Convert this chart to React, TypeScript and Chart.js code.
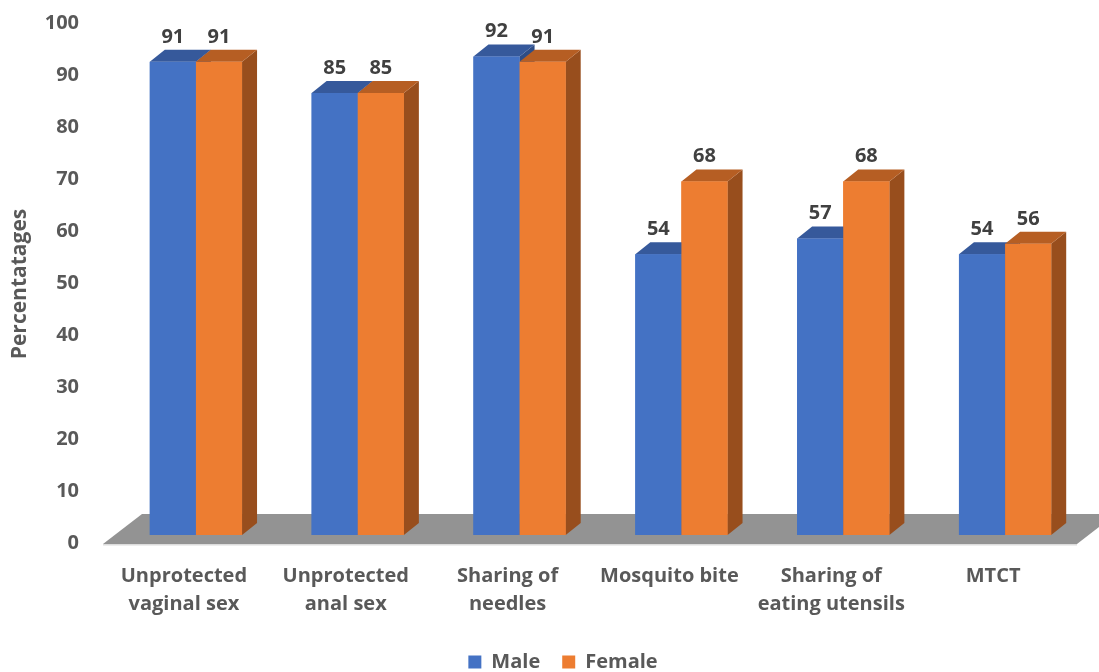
import React, { useEffect, useRef } from 'react';
import { Chart, registerables } from 'chart.js';

Chart.register(...registerables);

const categories: string[][] = [
  ['Unprotected', 'vaginal sex'],
  ['Unprotected', 'anal sex'],
  ['Sharing of', 'needles'],
  ['Mosquito bite'],
  ['Sharing of', 'eating utensils'],
  ['MTCT'],
];
const maleValues = [91, 85, 92, 54, 57, 54];
const femaleValues = [91, 85, 91, 68, 68, 56];
const seriesNames = ['Male', 'Female'];
const yAxisTitle = 'Percentatages';
const yMin = 0;
const yMax = 100;
const yStep = 10;

const FONT = '"Open Sans", "DejaVu Sans", sans-serif';
const TEXT = '#595959';
const LABEL = '#404040';
const MALE = { front: '#4472C4', top: '#36599B', side: '#2E4D86' };
const FEMALE = { front: '#ED7D31', top: '#B65E23', side: '#984E1D' };
const DX = 15;
const DY = 12;

function poly(ctx: CanvasRenderingContext2D, pts: number[][], color: string) {
  ctx.beginPath();
  ctx.moveTo(pts[0][0], pts[0][1]);
  for (let i = 1; i < pts.length; i++) ctx.lineTo(pts[i][0], pts[i][1]);
  ctx.closePath();
  ctx.fillStyle = color;
  ctx.fill();
}

const bars3d = {
  id: 'bars3d',
  afterLayout(chart: any) {
    const lg = chart.legend;
    if (lg) {
      lg.top += 10;
      lg.bottom += 10;
      lg.left += 20;
      lg.right += 20;
    }
  },
  beforeDatasetsDraw(chart: any) {
    const ctx = chart.ctx as CanvasRenderingContext2D;
    const { left, right } = chart.chartArea;
    const base = chart.scales.y.getPixelForValue(0);
    ctx.save();
    poly(
      ctx,
      [
        [left - 12, base + 9],
        [right - 9, base + 9],
        [right + 30, base - 21],
        [left + 27, base - 21],
      ],
      '#939393'
    );
    ctx.fillStyle = '#dcdcdc';
    ctx.fillRect(left - 12, base + 9, right - left + 3, 1.5);
    ctx.restore();
  },
  afterDatasetsDraw(chart: any) {
    const ctx = chart.ctx as CanvasRenderingContext2D;
    const base = chart.scales.y.getPixelForValue(0);
    const metas = [chart.getDatasetMeta(0), chart.getDatasetMeta(1)];
    const palettes = [MALE, FEMALE];
    ctx.save();
    for (let i = 0; i < categories.length; i++) {
      for (let d = 0; d < 2; d++) {
        const bar = metas[d].data[i];
        if (!bar) continue;
        const { x, y, width } = bar.getProps(['x', 'y', 'width'], true);
        const x0 = x - width / 2;
        const x1 = x + width / 2;
        const pal = palettes[d];
        poly(ctx, [[x1, y], [x1 + DX, y - DY], [x1 + DX, base - DY], [x1, base]], pal.side);
        poly(ctx, [[x0, y], [x1, y], [x1 + DX, y - DY], [x0 + DX, y - DY]], pal.top);
        ctx.fillStyle = pal.front;
        ctx.fillRect(x0, y, width, base - y);
      }
    }
    ctx.font = `bold 20px ${FONT}`;
    ctx.fillStyle = LABEL;
    ctx.textAlign = 'center';
    ctx.textBaseline = 'middle';
    for (let d = 0; d < 2; d++) {
      const vals = d === 0 ? maleValues : femaleValues;
      metas[d].data.forEach((bar: any, i: number) => {
        const { x, y } = bar.getProps(['x', 'y'], true);
        ctx.fillText(String(vals[i]), x, y - 25);
      });
    }
    ctx.restore();
  },
  afterDraw(chart: any) {
    const ctx = chart.ctx as CanvasRenderingContext2D;
    ctx.save();
    ctx.translate(20, 284);
    ctx.rotate(-Math.PI / 2);
    ctx.font = `bold 21px ${FONT}`;
    ctx.fillStyle = TEXT;
    ctx.textAlign = 'center';
    ctx.textBaseline = 'middle';
    ctx.fillText(yAxisTitle, 0, 0);
    ctx.restore();
  },
};

export default function App() {
  const canvasRef = useRef<HTMLCanvasElement | null>(null);

  useEffect(() => {
    if (!canvasRef.current) return;
    const chart = new Chart(canvasRef.current, {
      type: 'bar',
      data: {
        labels: categories,
        datasets: [
          {
            label: seriesNames[0],
            data: maleValues,
            backgroundColor: MALE.front,
            borderWidth: 0,
            categoryPercentage: 0.57,
            barPercentage: 1.0,
          },
          {
            label: seriesNames[1],
            data: femaleValues,
            backgroundColor: FEMALE.front,
            borderWidth: 0,
            categoryPercentage: 0.57,
            barPercentage: 1.0,
          },
        ],
      },
      options: {
        animation: false,
        responsive: true,
        maintainAspectRatio: false,
        layout: { padding: { top: 15, right: 13, left: 0, bottom: 0 } },
        scales: {
          x: {
            grid: { display: false, drawTicks: false },
            border: { display: false },
            ticks: {
              color: TEXT,
              font: { family: FONT, size: 20, weight: 'bold', lineHeight: '28px' },
              padding: 27,
              labelOffset: -12,
              maxRotation: 0,
              autoSkip: false,
            },
            afterFit(scale: any) {
              scale.height = 85;
              scale.paddingLeft = 0;
              scale.paddingRight = 0;
            },
          },
          y: {
            min: yMin,
            max: yMax,
            grid: { display: false, drawTicks: false },
            border: { display: false },
            ticks: {
              stepSize: yStep,
              color: TEXT,
              font: { family: FONT, size: 20, weight: 'bold' },
              padding: 36,
              labelOffset: 8,
            },
            afterFit(scale: any) {
              scale.width = 115;
              scale.paddingTop = 0;
              scale.paddingBottom = 0;
            },
          },
        },
        plugins: {
          legend: {
            position: 'bottom',
            labels: {
              boxWidth: 13,
              boxHeight: 13,
              padding: 22,
              color: TEXT,
              font: { family: FONT, size: 20, weight: 'bold' },
            },
          },
          tooltip: { enabled: false },
        },
      },
      plugins: [bars3d],
    } as any);
    return () => chart.destroy();
  }, []);

  return (
    <div style={{ position: 'absolute', left: 0, top: 0, width: 1099, height: 672 }}>
      <canvas ref={canvasRef} />
    </div>
  );
}
